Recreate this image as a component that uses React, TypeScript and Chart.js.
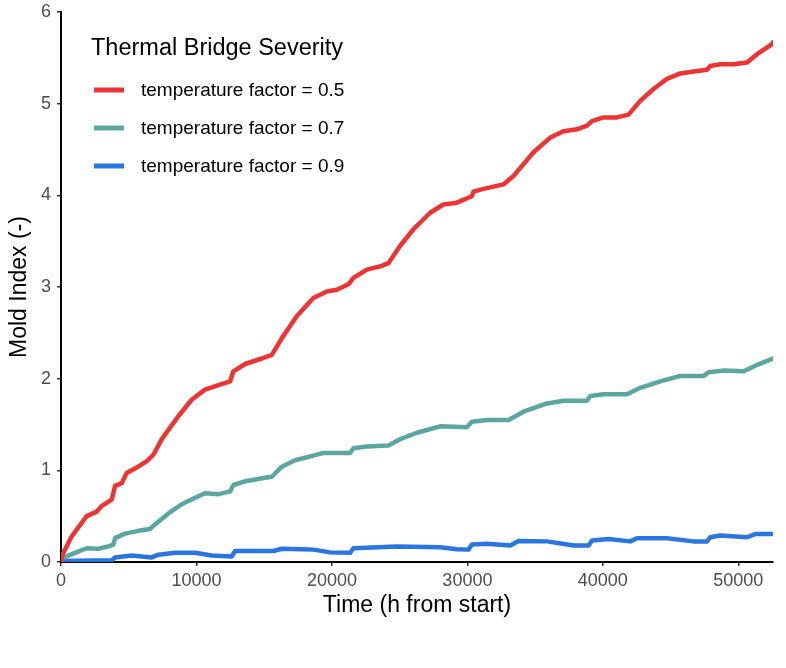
import React, { useEffect, useRef } from "react";
import { Chart, registerables } from "chart.js";

Chart.register(...registerables);

// Time (h from start)
const redX = [0, 50, 790, 1900, 2640, 3000, 3740, 3990, 4480, 4850, 5590, 6330, 6820, 7440, 8660, 9650, 10630, 11620, 12480, 12730, 13590, 14820, 15560, 16300, 17400, 18630, 19620, 20360, 21220, 21590, 22580, 23690, 24170, 25040, 26020, 27250, 28230, 29220, 30330, 30450, 31190, 32670, 33400, 34880, 36120, 37100, 38090, 38830, 39200, 40050, 41040, 41900, 42760, 43740, 44730, 45720, 46700, 47690, 47930, 48670, 49650, 50640, 51380, 52490, 52560];
const redY = [0.02, 0.06, 0.28, 0.5, 0.55, 0.61, 0.68, 0.83, 0.86, 0.97, 1.03, 1.1, 1.17, 1.34, 1.59, 1.77, 1.88, 1.93, 1.97, 2.08, 2.16, 2.22, 2.26, 2.44, 2.68, 2.88, 2.95, 2.97, 3.03, 3.1, 3.19, 3.23, 3.26, 3.45, 3.63, 3.81, 3.9, 3.92, 3.99, 4.04, 4.07, 4.12, 4.21, 4.47, 4.63, 4.7, 4.72, 4.76, 4.81, 4.85, 4.85, 4.88, 5.03, 5.16, 5.27, 5.33, 5.35, 5.37, 5.41, 5.43, 5.43, 5.45, 5.54, 5.65, 5.67];

const tealX = [0, 50, 1030, 1900, 2760, 3490, 3860, 3990, 4730, 5710, 6570, 6940, 7930, 8910, 9900, 10630, 11620, 12480, 12730, 13590, 15070, 15560, 16300, 17280, 18630, 19370, 21340, 21590, 22580, 24170, 25040, 26270, 27990, 29960, 30330, 31440, 33040, 34140, 35870, 37100, 38830, 39070, 40050, 41780, 42760, 44240, 45720, 47440, 47810, 48920, 50390, 51380, 52560];
const tealY = [0.01, 0.04, 0.1, 0.15, 0.145, 0.17, 0.19, 0.26, 0.31, 0.34, 0.36, 0.41, 0.53, 0.63, 0.7, 0.75, 0.74, 0.77, 0.84, 0.88, 0.92, 0.93, 1.04, 1.11, 1.16, 1.19, 1.19, 1.24, 1.26, 1.27, 1.34, 1.41, 1.48, 1.47, 1.53, 1.55, 1.55, 1.64, 1.73, 1.76, 1.76, 1.81, 1.83, 1.83, 1.9, 1.97, 2.03, 2.03, 2.07, 2.09, 2.08, 2.15, 2.22];

const blueX = [0, 3740, 3990, 5220, 6700, 7190, 8420, 9900, 11130, 12600, 12850, 14330, 15680, 16300, 17780, 18630, 19870, 21340, 21590, 24790, 27990, 29220, 30080, 30330, 31440, 33160, 33780, 35870, 37840, 38950, 39200, 40420, 42020, 42520, 44730, 46700, 47690, 47930, 48670, 50640, 51250, 52560];
const blueY = [0.01, 0.02, 0.05, 0.07, 0.05, 0.08, 0.1, 0.1, 0.07, 0.06, 0.12, 0.12, 0.12, 0.145, 0.14, 0.135, 0.105, 0.1, 0.15, 0.17, 0.16, 0.14, 0.135, 0.19, 0.2, 0.18, 0.23, 0.225, 0.18, 0.18, 0.235, 0.25, 0.225, 0.26, 0.26, 0.225, 0.225, 0.27, 0.29, 0.27, 0.305, 0.305];

const seriesLabels = ["temperature factor = 0.5", "temperature factor = 0.7", "temperature factor = 0.9"];
const seriesColors = ["#EE3333", "#5AA6A2", "#2A76E0"];
const legendTitle = "Thermal Bridge Severity";
const xTicks = [0, 10000, 20000, 30000, 40000, 50000];
const yTicks = [0, 1, 2, 3, 4, 5, 6];
const X_MAX = 52560;
const Y_MAX = 6;

const toPoints = (xs: number[], ys: number[]) => xs.map((x, i) => ({ x, y: ys[i] }));

const legendPlugin = {
  id: "customLegend",
  afterDraw(chart: any) {
    const ctx = chart.ctx;
    ctx.save();
    ctx.fillStyle = "#000";
    ctx.textBaseline = "middle";
    ctx.textAlign = "left";
    ctx.font = "23.5px 'Liberation Sans', Arial, sans-serif";
    ctx.fillText(legendTitle, 91, 49);
    ctx.font = "19px 'Liberation Sans', Arial, sans-serif";
    const ys = [90, 128, 166];
    seriesLabels.forEach((lab, i) => {
      ctx.strokeStyle = seriesColors[i];
      ctx.lineWidth = 5;
      ctx.lineCap = "butt";
      ctx.beginPath();
      ctx.moveTo(94, ys[i]);
      ctx.lineTo(124, ys[i]);
      ctx.stroke();
      ctx.fillStyle = "#000";
      ctx.fillText(lab, 141, ys[i] + 1);
    });
    ctx.restore();
  },
};

export default function App() {
  const ref = useRef<HTMLCanvasElement | null>(null);
  useEffect(() => {
    document.body.style.margin = "0";
    const canvas = ref.current;
    if (!canvas) return;
    const xs = [redX, tealX, blueX];
    const yv = [redY, tealY, blueY];
    const chart = new Chart(canvas, {
      type: "line",
      data: {
        datasets: seriesLabels.map((label, i) => ({
          label,
          data: toPoints(xs[i], yv[i]),
          borderColor: seriesColors[i],
          backgroundColor: seriesColors[i],
          borderWidth: 4.5,
          pointRadius: 0,
          tension: 0,
          fill: false,
          borderJoinStyle: "round" as const,
          borderCapStyle: "round" as const,
        })),
      },
      options: {
        responsive: false,
        animation: false,
        layout: { padding: { top: 12, right: 13, left: 0, bottom: 0 } },
        plugins: { legend: { display: false }, tooltip: { enabled: false } },
        scales: {
          x: {
            type: "linear",
            min: 0,
            max: X_MAX,
            afterFit: (s: any) => { s.height = 106; s.paddingLeft = 0; s.paddingRight = 0; },
            afterBuildTicks: (s: any) => { s.ticks = xTicks.map((v) => ({ value: v })); },
            border: { display: true, color: "#000", width: 2 },
            grid: { display: true, drawOnChartArea: false, drawTicks: true, tickLength: 4, color: "#333", lineWidth: 1.5 },
            ticks: {
              color: "#4D4D4D",
              font: { size: 18, family: "'Liberation Sans', Arial, sans-serif" },
              padding: 4,
              maxRotation: 0,
              callback: (v: any) => String(v),
            },
            title: {
              display: true,
              text: "Time (h from start)",
              color: "#000",
              font: { size: 23, family: "'Liberation Sans', Arial, sans-serif" },
              padding: { top: 0, bottom: 49 },
            },
          },
          y: {
            type: "linear",
            min: 0,
            max: Y_MAX,
            afterFit: (s: any) => { s.width = 61; s.paddingTop = 0; s.paddingBottom = 0; },
            afterBuildTicks: (s: any) => { s.ticks = yTicks.map((v) => ({ value: v })); },
            border: { display: true, color: "#000", width: 2 },
            grid: { display: true, drawOnChartArea: false, drawTicks: true, tickLength: 4, color: "#333", lineWidth: 1.5 },
            ticks: {
              color: "#4D4D4D",
              font: { size: 18, family: "'Liberation Sans', Arial, sans-serif" },
              padding: 6,
              callback: (v: any) => String(v),
            },
            title: {
              display: true,
              text: "Mold Index (-)",
              color: "#000",
              font: { size: 23, family: "'Liberation Sans', Arial, sans-serif" },
              padding: { top: 6, bottom: 0 },
            },
          },
        },
      },
      plugins: [legendPlugin],
    } as any);
    return () => chart.destroy();
  }, []);
  return (
    <div style={{ position: "fixed", left: 0, top: 0, width: 786, height: 668, background: "#fff" }}>
      <canvas ref={ref} width={786} height={668} />
    </div>
  );
}
